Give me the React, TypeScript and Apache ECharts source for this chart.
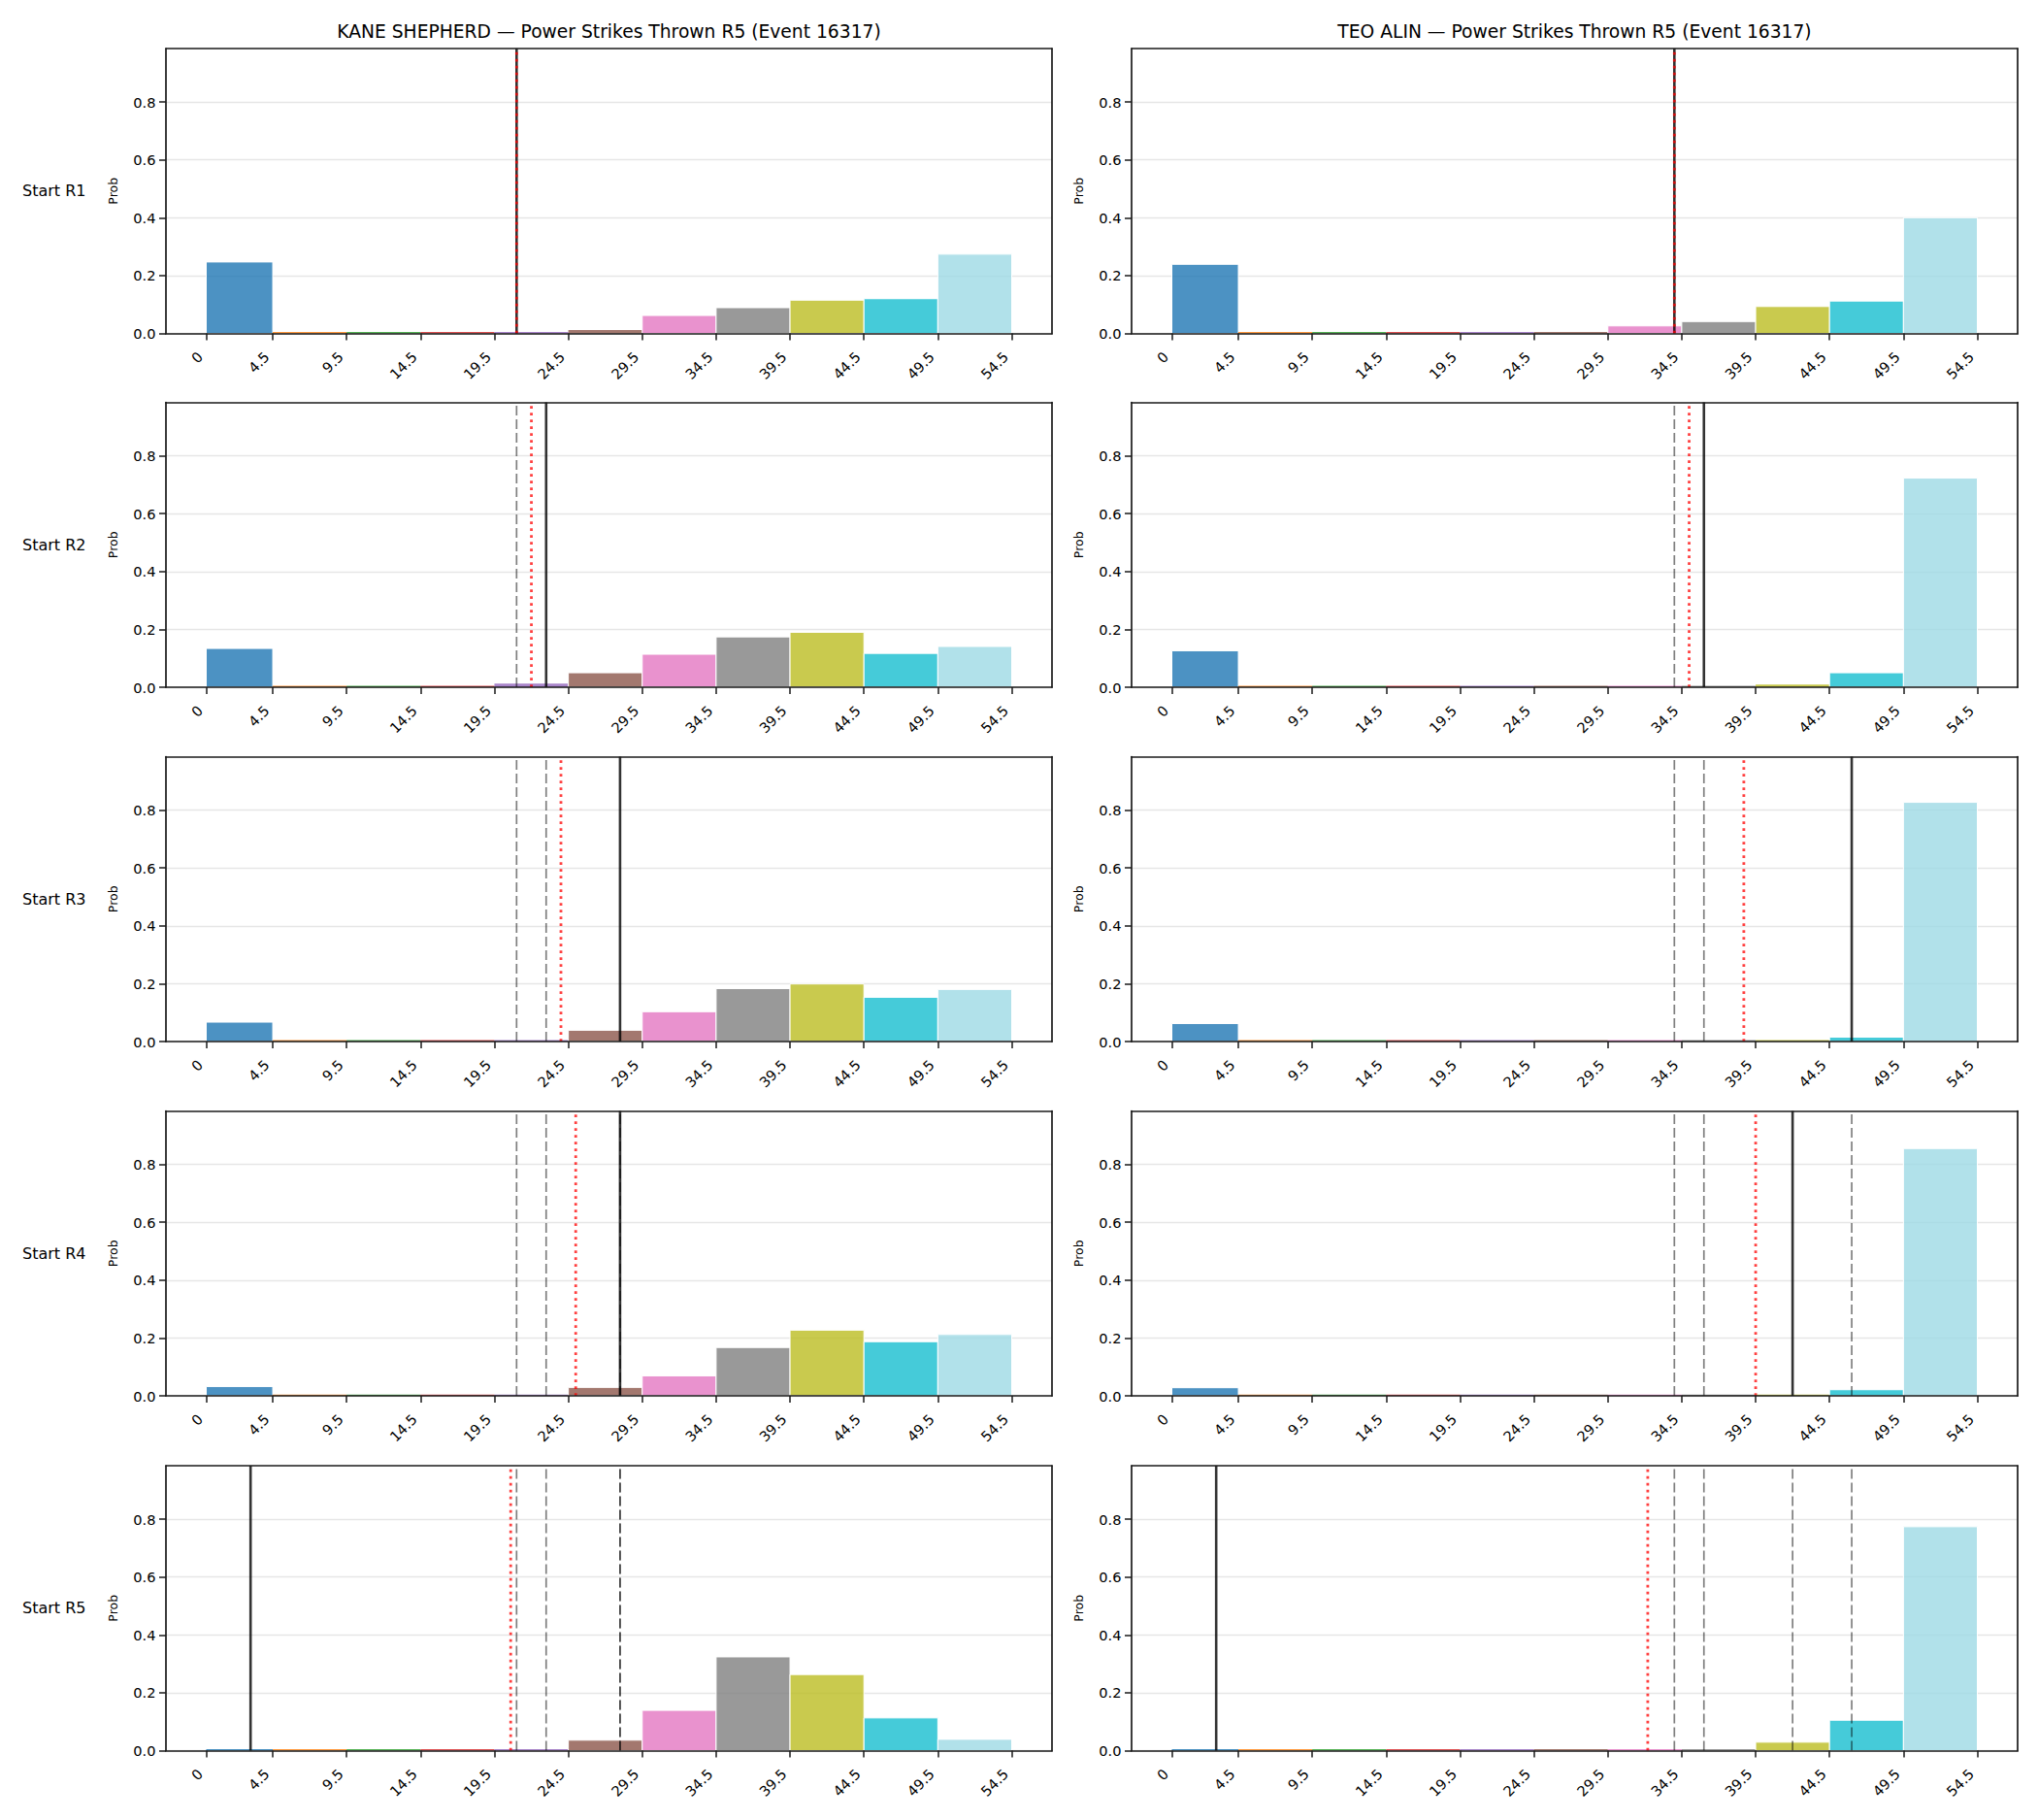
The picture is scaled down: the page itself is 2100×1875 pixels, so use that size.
import React, { useEffect, useRef } from "react";
import * as echarts from "echarts";

// Bin edges of the power-strike histogram (first bin is 0–4.5, then 5-wide bins)
const BIN_EDGES = [0, 4.5, 9.5, 14.5, 19.5, 24.5, 29.5, 34.5, 39.5, 44.5, 49.5, 54.5];
const TICK_LABELS = ["0", "4.5", "9.5", "14.5", "19.5", "24.5", "29.5", "34.5", "39.5", "44.5", "49.5", "54.5"];
const Y_TICKS = [0, 0.2, 0.4, 0.6, 0.8];
const Y_TICK_LABELS = ["0.0", "0.2", "0.4", "0.6", "0.8"];

// tab20 sampled at 11 evenly spaced points
const BIN_COLORS = [
  "#1f77b4", "#ff7f0e", "#2ca02c", "#d62728", "#9467bd", "#8c564b",
  "#e377c2", "#7f7f7f", "#bcbd22", "#17becf", "#9edae5",
];

const FIGHTERS = ["KANE SHEPHERD", "TEO ALIN"];
const TITLE_SUFFIX = " — Power Strikes Thrown R5 (Event 16317)";
const ROW_LABELS = ["Start R1", "Start R2", "Start R3", "Start R4", "Start R5"];

// Probability per bin, one array per starting round
const KANE_R1 = [0.247, 0.005, 0.005, 0.005, 0.005, 0.012, 0.062, 0.089, 0.115, 0.12, 0.274];
const KANE_R2 = [0.134, 0.005, 0.005, 0.005, 0.013, 0.05, 0.114, 0.174, 0.19, 0.117, 0.141];
const KANE_R3 = [0.067, 0.005, 0.005, 0.005, 0.005, 0.039, 0.103, 0.183, 0.199, 0.153, 0.18];
const KANE_R4 = [0.032, 0.004, 0.004, 0.004, 0.004, 0.029, 0.069, 0.167, 0.227, 0.187, 0.212];
const KANE_R5 = [0.005, 0.005, 0.005, 0.005, 0.005, 0.036, 0.139, 0.324, 0.263, 0.113, 0.039];

const TEO_R1 = [0.239, 0.005, 0.005, 0.005, 0.005, 0.005, 0.026, 0.041, 0.093, 0.112, 0.4];
const TEO_R2 = [0.126, 0.005, 0.005, 0.005, 0.005, 0.005, 0.005, 0.005, 0.009, 0.05, 0.723];
const TEO_R3 = [0.062, 0.005, 0.005, 0.005, 0.005, 0.005, 0.005, 0.005, 0.005, 0.015, 0.827];
const TEO_R4 = [0.028, 0.004, 0.004, 0.004, 0.004, 0.004, 0.004, 0.004, 0.004, 0.021, 0.855];
const TEO_R5 = [0.005, 0.005, 0.005, 0.005, 0.005, 0.005, 0.005, 0.005, 0.029, 0.105, 0.774];

// Strikes thrown so far at the start of each round (solid line); earlier ones shown dashed
const KANE_ACTUAL = [21, 23, 28, 28, 3];
const TEO_ACTUAL = [34, 36, 46, 42, 3];
// Projected line (red dotted)
const KANE_LINE = [21, 22, 24, 25, 20.6];
const TEO_LINE = [34, 35, 38.7, 39.5, 32.2];

const PROBS = [
  [KANE_R1, KANE_R2, KANE_R3, KANE_R4, KANE_R5],
  [TEO_R1, TEO_R2, TEO_R3, TEO_R4, TEO_R5],
];
const ACTUALS = [KANE_ACTUAL, TEO_ACTUAL];
const LINES = [KANE_LINE, TEO_LINE];

const X_MIN = -2.725;
const X_MAX = 57.225;
const Y_MAX = 0.985;

// Layout (pixels)
const COL_LEFT = [171, 1166];
const GRID_W = 913;
const ROW_TOP = [50, 414.5, 779.5, 1144.5, 1510];
const GRID_H = 293.5;

const FONT = "DejaVu Sans, Liberation Sans, sans-serif";
const SPINE = "#1a1a1a";

function hexToRgba(hex: string, a: number) {
  const n = parseInt(hex.slice(1), 16);
  return `rgba(${(n >> 16) & 255},${(n >> 8) & 255},${n & 255},${a})`;
}

function buildOption() {
  const grid: any[] = [];
  const xAxis: any[] = [];
  const yAxis: any[] = [];
  const series: any[] = [];
  const graphic: any[] = [];

  for (let col = 0; col < 2; col++) {
    graphic.push({
      type: "text",
      x: COL_LEFT[col] + GRID_W / 2,
      y: 32,
      style: {
        text: FIGHTERS[col] + TITLE_SUFFIX,
        align: "center",
        verticalAlign: "middle",
        font: `18.7px ${FONT}`,
        fill: "#000",
      },
    });
  }

  for (let row = 0; row < 5; row++) {
    const cy = ROW_TOP[row] + GRID_H / 2;
    graphic.push({
      type: "text",
      x: 23,
      y: cy,
      style: {
        text: ROW_LABELS[row],
        align: "left",
        verticalAlign: "middle",
        font: `16px ${FONT}`,
        fill: "#000",
      },
    });

    for (let col = 0; col < 2; col++) {
      const gi = grid.length;
      grid.push({
        left: COL_LEFT[col],
        top: ROW_TOP[row],
        width: GRID_W,
        height: GRID_H,
        containLabel: false,
      });

      graphic.push({
        type: "text",
        x: COL_LEFT[col] - 54.5,
        y: cy,
        rotation: Math.PI / 2,
        style: {
          text: "Prob",
          align: "center",
          verticalAlign: "middle",
          font: `12.5px ${FONT}`,
          fill: "#000",
        },
      });

      const xi = xAxis.length;
      // bottom axis with labels
      xAxis.push({
        type: "value",
        gridIndex: gi,
        position: "bottom",
        min: X_MIN,
        max: X_MAX,
        z: 10,
        axisLine: { show: true, onZero: false, lineStyle: { color: SPINE, width: 1.7 } },
        axisTick: {
          show: true,
          length: 7,
          customValues: BIN_EDGES,
          lineStyle: { color: SPINE, width: 1.5 },
        },
        axisLabel: {
          show: true,
          rotate: 45,
          margin: 15,
          padding: [0, 9, 0, 0],
          customValues: BIN_EDGES,
          formatter: (v: number) => {
            const i = BIN_EDGES.indexOf(v);
            return i >= 0 ? TICK_LABELS[i] : "";
          },
          fontFamily: FONT,
          fontSize: 14.6,
          color: "#000",
        },
        splitLine: { show: false },
      });
      // top spine
      xAxis.push({
        type: "value",
        gridIndex: gi,
        position: "top",
        min: X_MIN,
        max: X_MAX,
        z: 10,
        axisLine: { show: true, onZero: false, lineStyle: { color: SPINE, width: 1.7 } },
        axisTick: { show: false },
        axisLabel: { show: false },
        splitLine: { show: false },
      });

      const yi = yAxis.length;
      yAxis.push({
        type: "value",
        gridIndex: gi,
        position: "left",
        min: 0,
        max: Y_MAX,
        interval: 0.2,
        axisLine: { show: true, onZero: false, lineStyle: { color: SPINE, width: 1.7 } },
        axisTick: {
          show: true,
          length: 7,
          customValues: Y_TICKS,
          lineStyle: { color: SPINE, width: 1.5 },
        },
        axisLabel: {
          show: true,
          margin: 10.5,
          customValues: Y_TICKS,
          formatter: (v: number) => {
            const i = Y_TICKS.findIndex((t) => Math.abs(t - v) < 1e-6);
            return i >= 0 ? Y_TICK_LABELS[i] : "";
          },
          fontFamily: FONT,
          fontSize: 14.6,
          color: "#000",
        },
        splitLine: { show: true, lineStyle: { color: "#e6e6e6", width: 1.3 } },
      });
      yAxis.push({
        type: "value",
        gridIndex: gi,
        position: "right",
        min: 0,
        max: Y_MAX,
        z: 10,
        axisLine: { show: true, onZero: false, lineStyle: { color: SPINE, width: 1.7 } },
        axisTick: { show: false },
        axisLabel: { show: false },
        splitLine: { show: false },
      });

      // histogram bars
      const probs = PROBS[col][row];
      const barData = probs.map((p, i) => [BIN_EDGES[i], BIN_EDGES[i + 1], p, i]);
      series.push({
        type: "custom",
        xAxisIndex: xi,
        yAxisIndex: yi,
        z: 2,
        silent: true,
        encode: { x: [0, 1], y: 2 },
        data: barData,
        renderItem: (params: any, api: any) => {
          const x0 = api.value(0);
          const x1 = api.value(1);
          const y = api.value(2);
          const ci = api.value(3);
          const p0 = api.coord([x0, y]);
          const p1 = api.coord([x1, 0]);
          const h = p1[1] - p0[1];
          return {
            type: "rect",
            shape: { x: p0[0], y: p0[1], width: p1[0] - p0[0], height: h },
            style: {
              fill: hexToRgba(BIN_COLORS[ci], 0.8),
              stroke: h > 4 ? "#ffffff" : null,
              lineWidth: h > 4 ? 1 : 0,
            },
          };
        },
      });

      const vline = (x: number, lineStyle: any, z: number) => ({
        type: "line",
        xAxisIndex: xi,
        yAxisIndex: yi,
        z,
        silent: true,
        symbol: "none",
        showSymbol: false,
        clip: false,
        data: [
          [x, 0],
          [x, Y_MAX],
        ],
        lineStyle,
      });

      // earlier rounds' values
      for (let k = 0; k < row; k++) {
        series.push(
          vline(ACTUALS[col][k], { color: "rgba(0,0,0,0.5)", width: 1.7, type: [10, 4], cap: "butt" }, 3)
        );
      }
      // current value
      series.push(vline(ACTUALS[col][row], { color: "rgba(0,0,0,0.8)", width: 2.6, type: "solid" }, 4));
      // projected line
      series.push(
        vline(LINES[col][row], { color: "rgba(255,0,0,0.75)", width: 2.8, type: [2.8, 4.2], cap: "butt" }, 5)
      );
    }
  }

  return {
    animation: false,
    backgroundColor: "#ffffff",
    grid,
    xAxis,
    yAxis,
    series,
    graphic,
  };
}

export default function App() {
  const ref = useRef<HTMLDivElement>(null);

  useEffect(() => {
    document.body.style.margin = "0";
    if (!ref.current) return;
    const chart = echarts.init(ref.current, undefined, { renderer: "svg" });
    chart.setOption(buildOption() as any);
    return () => {
      chart.dispose();
    };
  }, []);

  return <div ref={ref} style={{ width: 2100, height: 1875 }} />;
}
